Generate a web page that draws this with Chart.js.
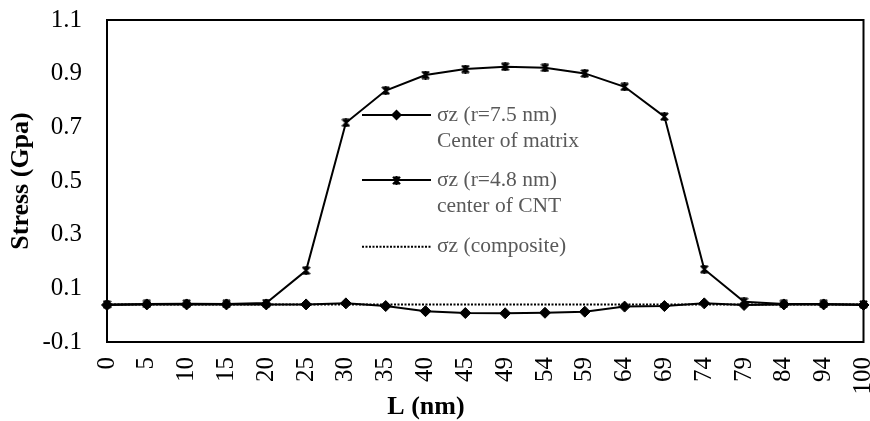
<!DOCTYPE html>
<html>
<head>
<meta charset="utf-8">
<script src="https://cdn.jsdelivr.net/npm/chart.js@4"></script>
<style>
  html, body { margin: 0; padding: 0; background: #fff; }
  #wrap { width: 870px; height: 421px; }
</style>
</head>
<body>
<div id="wrap"><canvas id="stressChart"></canvas></div>
<script>
// positions along the fibre (nm)
const lengths = ['0', '5', '10', '15', '20', '25', '30', '35', '40', '45',
                 '49', '54', '59', '64', '69', '74', '79', '84', '94', '100'];

// sigma z at r = 7.5 nm (centre of matrix)
const matrixStress = [0.038, 0.040, 0.040, 0.040, 0.040, 0.040, 0.044, 0.034, 0.015, 0.008,
                      0.007, 0.009, 0.013, 0.032, 0.034, 0.044, 0.038, 0.040, 0.040, 0.038];

// sigma z at r = 4.8 nm (centre of CNT)
const cntStress = [0.040, 0.042, 0.043, 0.042, 0.045, 0.166, 0.717, 0.837, 0.895, 0.917,
                   0.926, 0.922, 0.901, 0.851, 0.740, 0.171, 0.050, 0.042, 0.042, 0.040];

// sigma z of the composite
const compositeStress = [0.040, 0.040, 0.040, 0.040, 0.040, 0.040, 0.040, 0.040, 0.040, 0.040,
                         0.040, 0.040, 0.040, 0.040, 0.040, 0.040, 0.040, 0.040, 0.040, 0.040];

const yTicks = { min: -0.1, max: 1.1, step: 0.2 };

const legendEntries = [
  { lines: ['\u03c3z (r=7.5 nm)', 'Center of matrix'], marker: 'diamond', dash: [] },
  { lines: ['\u03c3z (r=4.8 nm)', 'center of CNT'], marker: 'star', dash: [] },
  { lines: ['\u03c3z (composite)'], marker: null, dash: [2, 1.5] }
];

// asterisk-like marker: an x crossed by a vertical bar, capped top and bottom
function makeStar(size) {
  const c = document.createElement('canvas');
  c.width = size; c.height = size;
  const g = c.getContext('2d');
  const h = size / 2;
  g.strokeStyle = '#000';
  g.lineWidth = 1.8;
  g.lineCap = 'square';
  g.beginPath();
  g.moveTo(1.5, 1.5); g.lineTo(size - 1.5, size - 1.5);
  g.moveTo(size - 1.5, 1.5); g.lineTo(1.5, size - 1.5);
  g.moveTo(h, 1); g.lineTo(h, size - 1);
  g.moveTo(h - 2, 1.5); g.lineTo(h + 2, 1.5);
  g.moveTo(h - 2, size - 1.5); g.lineTo(h + 2, size - 1.5);
  g.stroke();
  return c;
}
const starImg = makeStar(9);

const serif = '"Liberation Serif", "Times New Roman", serif';

const framePlugin = {
  id: 'frameAndLegend',
  afterDraw(chart) {
    const { ctx, chartArea: a } = chart;
    ctx.save();
    // plot frame
    ctx.strokeStyle = '#000';
    ctx.lineWidth = 2;
    ctx.strokeRect(a.left, a.top, a.right - a.left, a.bottom - a.top);

    // axis titles
    ctx.fillStyle = '#000';
    ctx.font = 'bold 26px ' + serif;
    ctx.textAlign = 'center';
    ctx.textBaseline = 'middle';
    ctx.fillText('L (nm)', 426, 407);
    ctx.save();
    ctx.translate(21, (a.top + a.bottom) / 2);
    ctx.rotate(-Math.PI / 2);
    ctx.fillText('Stress (Gpa)', 0, 0);
    ctx.restore();

    // legend
    const lx0 = 362, lx1 = 431, tx = 437;
    const rows = [115, 180, 246.7];
    ctx.font = '21.5px ' + serif;
    ctx.textAlign = 'left';
    legendEntries.forEach((e, i) => {
      const y = rows[i];
      ctx.strokeStyle = '#000';
      ctx.lineWidth = 2;
      ctx.setLineDash(e.dash);
      ctx.beginPath();
      ctx.moveTo(lx0, y);
      ctx.lineTo(lx1, y);
      ctx.stroke();
      ctx.setLineDash([]);
      const mx = (lx0 + lx1) / 2;
      if (e.marker === 'diamond') {
        ctx.fillStyle = '#000';
        ctx.beginPath();
        ctx.moveTo(mx, y - 5.5); ctx.lineTo(mx + 5.5, y);
        ctx.lineTo(mx, y + 5.5); ctx.lineTo(mx - 5.5, y);
        ctx.closePath();
        ctx.fill();
      } else if (e.marker === 'star') {
        ctx.drawImage(starImg, Math.round(mx - starImg.width / 2), Math.round(y - starImg.height / 2));
      }
      ctx.fillStyle = '#595959';
      e.lines.forEach((t, k) => ctx.fillText(t, tx, y + k * 26.7));
    });
    ctx.restore();
  }
};

new Chart(document.getElementById('stressChart'), {
  type: 'line',
  data: {
    labels: lengths,
    datasets: [
      {
        label: '\u03c3z (r=7.5 nm) Center of matrix',
        data: matrixStress,
        borderColor: '#000',
        backgroundColor: '#000',
        borderWidth: 2,
        pointStyle: 'rectRot',
        pointRadius: 5.5,
        pointBorderWidth: 1,
        clip: false
      },
      {
        label: '\u03c3z (r=4.8 nm) center of CNT',
        data: cntStress,
        borderColor: '#000',
        backgroundColor: '#000',
        borderWidth: 2,
        pointStyle: starImg,
        clip: false
      },
      {
        label: '\u03c3z (composite)',
        data: compositeStress,
        borderColor: '#000',
        borderWidth: 2,
        borderDash: [2, 1.5],
        pointRadius: 0,
        clip: false
      }
    ]
  },
  options: {
    responsive: true,
    maintainAspectRatio: false,
    animation: false,
    events: [],
    layout: { padding: { top: 20, right: 5, left: 0, bottom: 0 } },
    plugins: {
      legend: { display: false },
      tooltip: { enabled: false }
    },
    scales: {
      x: {
        offset: false,
        grid: { display: false, drawTicks: false },
        border: { display: false },
        ticks: {
          color: '#000',
          font: { family: serif, size: 25 },
          minRotation: 90,
          maxRotation: 90,
          padding: 15,
          autoSkip: false
        },
        afterFit(scale) {
          scale.height = 79;
          scale.paddingLeft = 0;
          scale.paddingRight = 0;
        }
      },
      y: {
        min: yTicks.min,
        max: yTicks.max,
        grid: { display: false, drawTicks: false },
        border: { display: false },
        ticks: {
          stepSize: yTicks.step,
          color: '#000',
          font: { family: serif, size: 25 },
          padding: 25,
          callback: v => v.toFixed(1)
        },
        afterFit(scale) {
          scale.width = 107;
          scale.paddingTop = 0;
          scale.paddingBottom = 0;
        }
      }
    }
  },
  plugins: [framePlugin]
});
</script>
</body>
</html>
